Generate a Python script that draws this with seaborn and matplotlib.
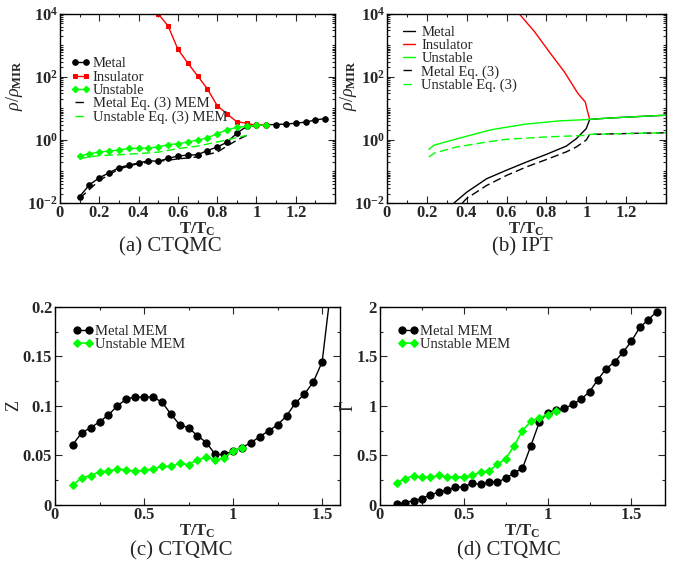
import numpy as np
import pandas as pd
import seaborn as sns
import matplotlib
matplotlib.use("Agg")
import matplotlib.pyplot as plt
from matplotlib.ticker import FuncFormatter, MultipleLocator, LogLocator, NullFormatter

sns.set_style("ticks")
plt.rcParams['font.family'] = ['Liberation Serif', 'DejaVu Serif']
plt.rcParams['mathtext.fontset'] = 'custom'
plt.rcParams['mathtext.rm'] = 'Liberation Serif'
plt.rcParams['mathtext.it'] = 'Liberation Serif:italic'
plt.rcParams['mathtext.bf'] = 'Liberation Serif:bold'

# ---- panel (a) CTQMC resistivity ----
a_metal_T = [0.1, 0.15, 0.2, 0.25, 0.3, 0.35, 0.4, 0.45, 0.5, 0.55, 0.6, 0.65, 0.7,
             0.75, 0.8, 0.85, 0.9, 0.95, 1.0, 1.05, 1.1, 1.15, 1.2, 1.25, 1.3, 1.35]
a_metal = [0.016, 0.038, 0.063, 0.091, 0.132, 0.16, 0.186, 0.22, 0.21, 0.26, 0.31, 0.33, 0.34,
           0.46, 0.60, 0.84, 1.63, 2.7, 2.9, 3.05, 3.1, 3.2, 3.4, 3.7, 4.3, 4.8]
a_ins_T = [0.5, 0.55, 0.6, 0.65, 0.7, 0.75, 0.8, 0.85, 0.9, 0.95, 1.0, 1.05]
a_ins = [10000, 4200, 760, 280, 109, 42, 12.4, 6.7, 3.8, 3.4, 2.9, 3.05]
a_uns_T = [0.1, 0.15, 0.2, 0.25, 0.3, 0.35, 0.4, 0.45, 0.5, 0.55, 0.6, 0.65, 0.7,
           0.75, 0.8, 0.85, 0.9, 0.95, 1.0, 1.05]
a_uns = [0.31, 0.37, 0.41, 0.45, 0.48, 0.54, 0.54, 0.56, 0.6, 0.71, 0.76, 0.86, 1.0,
         1.15, 1.6, 2.1, 2.5, 2.7, 2.9, 3.0]
a_meq_T = [0.1, 0.2, 0.3, 0.4, 0.5, 0.6, 0.7, 0.8, 0.85, 0.9, 0.95]
a_meq = [0.014, 0.052, 0.12, 0.18, 0.21, 0.25, 0.29, 0.41, 0.64, 0.98, 1.4]
a_ueq_T = [0.1, 0.2, 0.3, 0.4, 0.5, 0.6, 0.7, 0.8, 0.9, 0.95]
a_ueq = [0.26, 0.32, 0.34, 0.37, 0.41, 0.53, 0.64, 0.86, 1.19, 1.4]

# ---- panel (b) IPT resistivity ----
b_metal_T = [0.336, 0.4, 0.5, 0.6, 0.7, 0.8, 0.9, 0.95, 1.0, 1.017, 1.1, 1.2, 1.3, 1.4]
b_metal = [0.01, 0.022, 0.059, 0.11, 0.2, 0.35, 0.64, 1.1, 2.3, 4.5, 4.9, 5.3, 5.7, 6.1]
b_ins_T = [0.664, 0.74, 0.82, 0.89, 0.958, 0.995, 1.005, 1.017]
b_ins = [10000, 2750, 560, 145, 30, 16, 8.7, 4.5]
b_uns_T = [0.21, 0.235, 0.353, 0.521, 0.689, 0.857, 1.017, 1.1, 1.2, 1.3, 1.4]
b_uns = [0.5, 0.68, 1.1, 2.1, 3.15, 4.0, 4.5, 4.9, 5.3, 5.7, 6.1]
b_meq_T = [0.378, 0.4, 0.5, 0.6, 0.7, 0.8, 0.9, 0.95, 1.0, 1.017, 1.1, 1.2, 1.3, 1.4]
b_meq = [0.01, 0.014, 0.036, 0.075, 0.14, 0.24, 0.42, 0.6, 1.0, 1.5, 1.55, 1.6, 1.65, 1.7]
b_ueq_T = [0.21, 0.24, 0.35, 0.5, 0.6, 0.8, 1.0, 1.017, 1.1, 1.2, 1.3, 1.4]
b_ueq = [0.29, 0.39, 0.6, 0.86, 1.05, 1.25, 1.4, 1.5, 1.55, 1.6, 1.65, 1.7]

# ---- panel (c) quasiparticle weight Z ----
c_metal_T = [0.1, 0.15, 0.2, 0.25, 0.3, 0.35, 0.4, 0.45, 0.5, 0.55, 0.6, 0.65, 0.7, 0.75,
             0.8, 0.85, 0.9, 0.95, 1.0, 1.05, 1.1, 1.15, 1.2, 1.25, 1.3, 1.35, 1.4, 1.45, 1.5, 1.55]
c_metal = [0.061, 0.073, 0.078, 0.084, 0.091, 0.100, 0.107, 0.109, 0.109, 0.109, 0.104, 0.092,
           0.081, 0.078, 0.070, 0.063, 0.051, 0.051, 0.0545, 0.058, 0.063, 0.069, 0.075, 0.081,
           0.090, 0.103, 0.112, 0.124, 0.1445, 0.22]
c_uns_T = [0.1, 0.15, 0.2, 0.25, 0.3, 0.35, 0.4, 0.45, 0.5, 0.55, 0.6, 0.65, 0.7, 0.75,
           0.8, 0.85, 0.9, 0.95, 1.0, 1.05]
c_uns = [0.020, 0.0276, 0.0296, 0.0336, 0.0343, 0.0363, 0.0356, 0.034, 0.035, 0.0363, 0.039,
         0.039, 0.042, 0.0407, 0.0457, 0.048, 0.0454, 0.0477, 0.0545, 0.058]

# ---- panel (d) scattering rate Gamma ----
d_metal_T = [0.1, 0.15, 0.2, 0.25, 0.3, 0.35, 0.4, 0.45, 0.5, 0.55, 0.6, 0.65, 0.7, 0.75,
             0.8, 0.85, 0.9, 0.95, 1.0, 1.05, 1.1, 1.15, 1.2, 1.25, 1.3, 1.35, 1.4, 1.45,
             1.5, 1.55, 1.6, 1.65]
d_metal = [0.01, 0.024, 0.044, 0.064, 0.104, 0.128, 0.151, 0.178, 0.185, 0.218, 0.208, 0.232,
           0.232, 0.269, 0.323, 0.37, 0.598, 0.834, 0.931, 0.958, 0.975, 1.015, 1.069, 1.143,
           1.267, 1.378, 1.445, 1.543, 1.654, 1.795, 1.869, 1.953]
d_uns_T = [0.1, 0.15, 0.2, 0.25, 0.3, 0.35, 0.4, 0.45, 0.5, 0.55, 0.6, 0.65, 0.7, 0.75,
           0.8, 0.85, 0.9, 0.95, 1.0, 1.05]
d_uns = [0.225, 0.266, 0.296, 0.279, 0.279, 0.299, 0.282, 0.282, 0.286, 0.303, 0.329, 0.343,
         0.41, 0.467, 0.598, 0.75, 0.847, 0.881, 0.911, 0.951]

GREEN = '#00ff00'
RED = '#ff0000'
DASH = (0, (6, 3))

fig = plt.figure(figsize=(6.89, 5.77), dpi=100)
axa = fig.add_axes([0.0871, 0.6482, 0.3991, 0.3276])
axb = fig.add_axes([0.5617, 0.6482, 0.4049, 0.3276])
axc = fig.add_axes([0.0798, 0.1248, 0.4136, 0.3432])
axd = fig.add_axes([0.5515, 0.1248, 0.4136, 0.3432])


def bold_num(v, pos):
    return r'$\mathbf{%g}$' % round(v, 3)


def log_fmt(v, pos):
    e = int(round(np.log10(v)))
    return r'$\mathbf{10^{%d}}$' % e


def style_axis(ax):
    ax.tick_params(which='both', direction='in', top=True, right=True, width=0.8)
    ax.tick_params(which='major', length=5, labelsize=12, pad=1.5)
    ax.tick_params(which='minor', length=2.5)
    for s in ax.spines.values():
        s.set_linewidth(1.0)
        s.set_color('black')


leg_kw = dict(frameon=False, fontsize=10.5, numpoints=2, handlelength=1.4,
              handletextpad=0.15, labelspacing=0.0)

# (a)
sns.lineplot(x=a_metal_T, y=a_metal, ax=axa, color='black', marker='o', markersize=4,
             markeredgecolor='black', lw=1, label='Metal')
sns.lineplot(x=a_ins_T, y=a_ins, ax=axa, color=RED, marker='s', markersize=3.5,
             markeredgecolor=RED, lw=1, label='Insulator')
sns.lineplot(x=a_uns_T, y=a_uns, ax=axa, color=GREEN, marker='D', markersize=3.3,
             markeredgecolor=GREEN, lw=1, label='Unstable')
sns.lineplot(x=a_meq_T, y=a_meq, ax=axa, color='black', lw=1, linestyle=DASH,
             label='Metal Eq. (3) MEM')
sns.lineplot(x=a_ueq_T, y=a_ueq, ax=axa, color=GREEN, lw=1, linestyle=DASH,
             label='Unstable Eq. (3) MEM')

# (b)
sns.lineplot(x=b_metal_T, y=b_metal, ax=axb, color='black', lw=1, label='Metal')
sns.lineplot(x=b_ins_T, y=b_ins, ax=axb, color=RED, lw=1, label='Insulator')
sns.lineplot(x=b_uns_T, y=b_uns, ax=axb, color=GREEN, lw=1, label='Unstable')
sns.lineplot(x=b_meq_T, y=b_meq, ax=axb, color='black', lw=1, linestyle=DASH,
             label='Metal Eq. (3)')
sns.lineplot(x=b_ueq_T, y=b_ueq, ax=axb, color=GREEN, lw=1, linestyle=DASH,
             label='Unstable Eq. (3)')

for ax in (axa, axb):
    ax.set_yscale('log')
    ax.set_xlim(0, 1.4)
    ax.set_ylim(1e-2, 1e4)
    ax.xaxis.set_major_locator(MultipleLocator(0.2))
    ax.xaxis.set_minor_locator(MultipleLocator(0.1))
    ax.yaxis.set_major_locator(LogLocator(base=100, numticks=10))
    ax.yaxis.set_minor_locator(LogLocator(base=10, subs=np.arange(1, 10), numticks=20))
    ax.yaxis.set_minor_formatter(NullFormatter())
    ax.yaxis.set_major_formatter(FuncFormatter(log_fmt))
    ax.xaxis.set_major_formatter(FuncFormatter(lambda v, p: bold_num(v, p) if v < 1.39 else ''))
    ax.set_xlabel(r'$\mathbf{T/T_C}$', fontsize=12, labelpad=0)
    ax.set_ylabel(r'$\rho/\rho_{\mathbf{MIR}}$', fontsize=13)
    style_axis(ax)

axa.yaxis.set_label_coords(-0.128, 0.62)
axb.yaxis.set_label_coords(-0.1, 0.62)
axa.legend(loc='upper left', bbox_to_anchor=(0.0, 0.825), borderaxespad=0.3, **leg_kw)
axb.legend(loc='upper left', bbox_to_anchor=(0.0, 1.0), borderaxespad=0.4, **leg_kw)

# (c)
sns.lineplot(x=c_metal_T, y=c_metal, ax=axc, color='black', marker='o', markersize=5.2,
             markeredgecolor='black', lw=1, label='Metal MEM')
sns.lineplot(x=c_uns_T, y=c_uns, ax=axc, color=GREEN, marker='D', markersize=4.2,
             markeredgecolor=GREEN, lw=1.2, label='Unstable MEM')
axc.set_xlim(0, 1.6)
axc.set_ylim(0, 0.2)
axc.xaxis.set_major_locator(MultipleLocator(0.5))
axc.xaxis.set_minor_locator(MultipleLocator(0.25))
axc.yaxis.set_major_locator(MultipleLocator(0.05))
axc.yaxis.set_minor_locator(MultipleLocator(0.025))
axc.set_ylabel('Z', fontsize=13)
axc.yaxis.set_label_coords(-0.116, 0.5)

# (d)
sns.lineplot(x=d_metal_T, y=d_metal, ax=axd, color='black', marker='o', markersize=5.2,
             markeredgecolor='black', lw=1, label='Metal MEM')
sns.lineplot(x=d_uns_T, y=d_uns, ax=axd, color=GREEN, marker='D', markersize=4.2,
             markeredgecolor=GREEN, lw=1.2, label='Unstable MEM')
axd.set_xlim(0, 1.7)
axd.set_ylim(0, 2)
axd.xaxis.set_major_locator(MultipleLocator(0.5))
axd.xaxis.set_minor_locator(MultipleLocator(0.25))
axd.yaxis.set_major_locator(MultipleLocator(0.5))
axd.yaxis.set_minor_locator(MultipleLocator(0.25))
axd.set_ylabel('Γ', fontsize=13)
axd.yaxis.set_label_coords(-0.081, 0.5)

for ax in (axc, axd):
    ax.xaxis.set_major_formatter(FuncFormatter(bold_num))
    ax.yaxis.set_major_formatter(FuncFormatter(bold_num))
    ax.set_xlabel(r'$\mathbf{T/T_C}$', fontsize=12, labelpad=0)
    ax.legend(loc='upper left', borderaxespad=0.8, **leg_kw)
    style_axis(ax)

# captions
fig.text(170 / 689, 1 - 247 / 577, '(a) CTQMC', ha='center', va='center', fontsize=15)
fig.text(522 / 689, 1 - 247 / 577, '(b) IPT', ha='center', va='center', fontsize=15)
fig.text(181 / 689, 1 - 551 / 577, '(c) CTQMC', ha='center', va='center', fontsize=15)
fig.text(509 / 689, 1 - 551 / 577, '(d) CTQMC', ha='center', va='center', fontsize=15)

fig.savefig('out.png', dpi=100)
